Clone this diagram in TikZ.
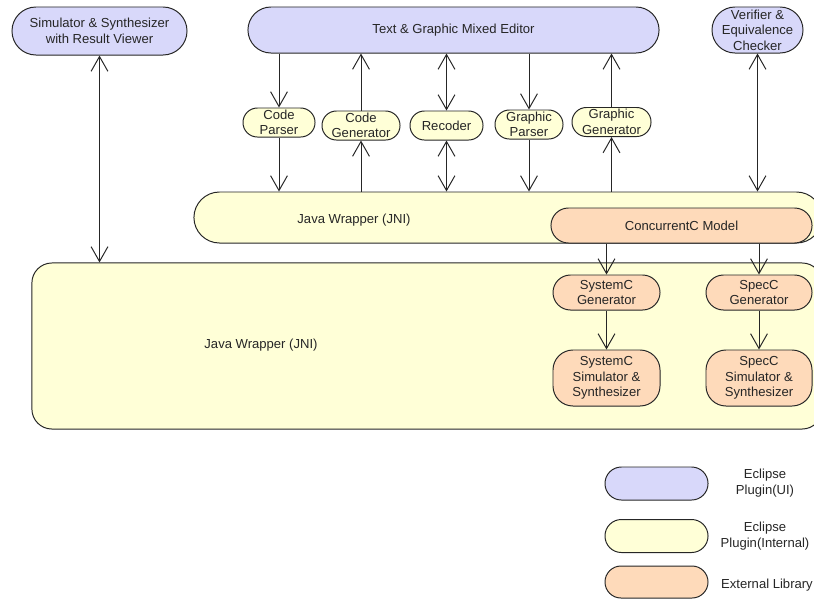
\documentclass[tikz,border=0pt]{standalone}
\usepackage{fontspec}
\setmainfont{Liberation Sans}
\usetikzlibrary{positioning,arrows.meta}

\definecolor{uiblue}{RGB}{216,216,250}
\definecolor{intyellow}{RGB}{255,255,215}
\definecolor{extorange}{RGB}{254,218,186}

\tikzset{
  box/.style={draw=black!85, line width=0.7pt, inner sep=0pt, align=center,
    font=\fontsize{9.3}{11}\selectfont, text=black!85},
  ui/.style={box, fill=uiblue},
  internal/.style={box, fill=intyellow},
  extlib/.style={box, fill=extorange},
  txt/.style={align=center, inner sep=0pt, font=\fontsize{9.3}{11}\selectfont, text=black!85},
  flow/.style={-{Straight Barb[length=3.7mm,width=4.2mm]}, line width=0.7pt, draw=black!85},
  twoway/.style={flow, {Straight Barb[length=3.7mm,width=4.2mm]}-{Straight Barb[length=3.7mm,width=4.2mm]}}
}

\begin{document}
\begin{tikzpicture}[x=0.025cm, y=-0.025cm]
	\useasboundingbox (0,0) rectangle (814,600);
	\clip (0,0) rectangle (814,600);
	% eclipse plugins (UI)
	\node[ui, minimum width=4.375cm, minimum height=1.2cm, rounded corners=0.6cm] (sim) at (99.5,31) {Simulator \& Synthesizer\\with Result Viewer};
	\node[ui, minimum width=10.275cm, minimum height=1.15cm, rounded corners=0.575cm] (editor) at (453.5,30) {Text \& Graphic Mixed Editor};
	\node[ui, minimum width=2.275cm, minimum height=1.15cm, rounded corners=0.575cm] (verif) at (757.5,30) {Verifier \&\\Equivalence\\Checker};
	% eclipse plugins (internal)
	\node[internal, minimum width=1.8cm, minimum height=0.725cm, rounded corners=0.36cm] (cpars) at (279,122.5) {Code\\Parser};
	\node[internal, minimum width=1.95cm, minimum height=0.725cm, rounded corners=0.36cm] (cgen) at (361,125.5) {Code\\Generator};
	\node[internal, minimum width=1.825cm, minimum height=0.725cm, rounded corners=0.36cm] (recoder) at (446.5,125.5) {Recoder};
	\node[internal, minimum width=1.7cm, minimum height=0.725cm, rounded corners=0.36cm] (gpars) at (529,124.5) {Graphic\\Parser};
	\node[internal, minimum width=1.975cm, minimum height=0.725cm, rounded corners=0.36cm] (ggen) at (611.5,122) {Graphic\\Generator};
	% wrappers
	\node[internal, minimum width=15.7cm, minimum height=1.275cm, rounded corners=0.64cm] (jniA) at (508,217.5) {};
	\node[txt] (jniAtext) at (354,220) {Java Wrapper (JNI)};
	\node[internal, minimum width=19.75cm, minimum height=4.15cm, rounded corners=0.5cm] (jniB) at (427,346) {};
	\node[txt] (jniBtext) at (261,345) {Java Wrapper (JNI)};
	% external libraries
	\node[extlib, minimum width=6.525cm, minimum height=0.875cm, rounded corners=0.4375cm] (ccm) at (681.5,225.5) {ConcurrentC Model};
	\node[extlib, minimum width=2.675cm, minimum height=0.875cm, rounded corners=0.4375cm] (scgen) at (606.5,292.5) {SystemC\\Generator};
	\node[extlib, minimum width=2.65cm, minimum height=0.875cm, rounded corners=0.4375cm] (spgen) at (759,292.5) {SpecC\\Generator};
	\node[extlib, minimum width=2.675cm, minimum height=1.4cm, rounded corners=0.5cm] (scsim) at (606.5,378) {SystemC\\Simulator \&\\Synthesizer};
	\node[extlib, minimum width=2.65cm, minimum height=1.4cm, rounded corners=0.5cm] (spsim) at (759,378) {SpecC\\Simulator \&\\Synthesizer};

	% connectors
	\draw[twoway] (sim.south) -- (sim.south |- jniB.north);
	\draw[twoway] (verif.south) -- (verif.south |- jniA.north);
	\draw[flow] (cpars.north |- editor.south) -- (cpars.north);
	\draw[flow] (cpars.south) -- (cpars.south |- jniA.north);
	\draw[flow] (cgen.north) -- (cgen.north |- editor.south);
	\draw[flow] (cgen.south |- jniA.north) -- (cgen.south);
	\draw[twoway] (recoder.north |- editor.south) -- (recoder.north);
	\draw[twoway] (recoder.south) -- (recoder.south |- jniA.north);
	\draw[flow] (gpars.north |- editor.south) -- (gpars.north);
	\draw[flow] (gpars.south) -- (gpars.south |- jniA.north);
	\draw[flow] (ggen.north) -- (ggen.north |- editor.south);
	\draw[flow] (ggen.south |- jniA.north) -- (ggen.south);
	\draw[flow] (scgen.north |- ccm.south) -- (scgen.north);
	\draw[flow] (spgen.north |- ccm.south) -- (spgen.north);
	\draw[flow] (scgen) -- (scsim);
	\draw[flow] (spgen) -- (spsim);

	% legend
	\node[ui, minimum width=2.575cm, minimum height=0.825cm, rounded corners=0.41cm] (legui) at (656.5,483.5) {};
	\node[txt] (leguitext) at (765,483) {Eclipse\\Plugin(UI)};
	\node[internal, minimum width=2.575cm, minimum height=0.825cm, rounded corners=0.41cm] (legint) at (656.5,536) {};
	\node[txt] (leginttext) at (765,536) {Eclipse\\Plugin(Internal)};
	\node[extlib, minimum width=2.575cm, minimum height=0.8cm, rounded corners=0.4cm] (legext) at (656.5,582) {};
	\node[txt] (legexttext) at (767,585) {External Library};
\end{tikzpicture}
\end{document}
